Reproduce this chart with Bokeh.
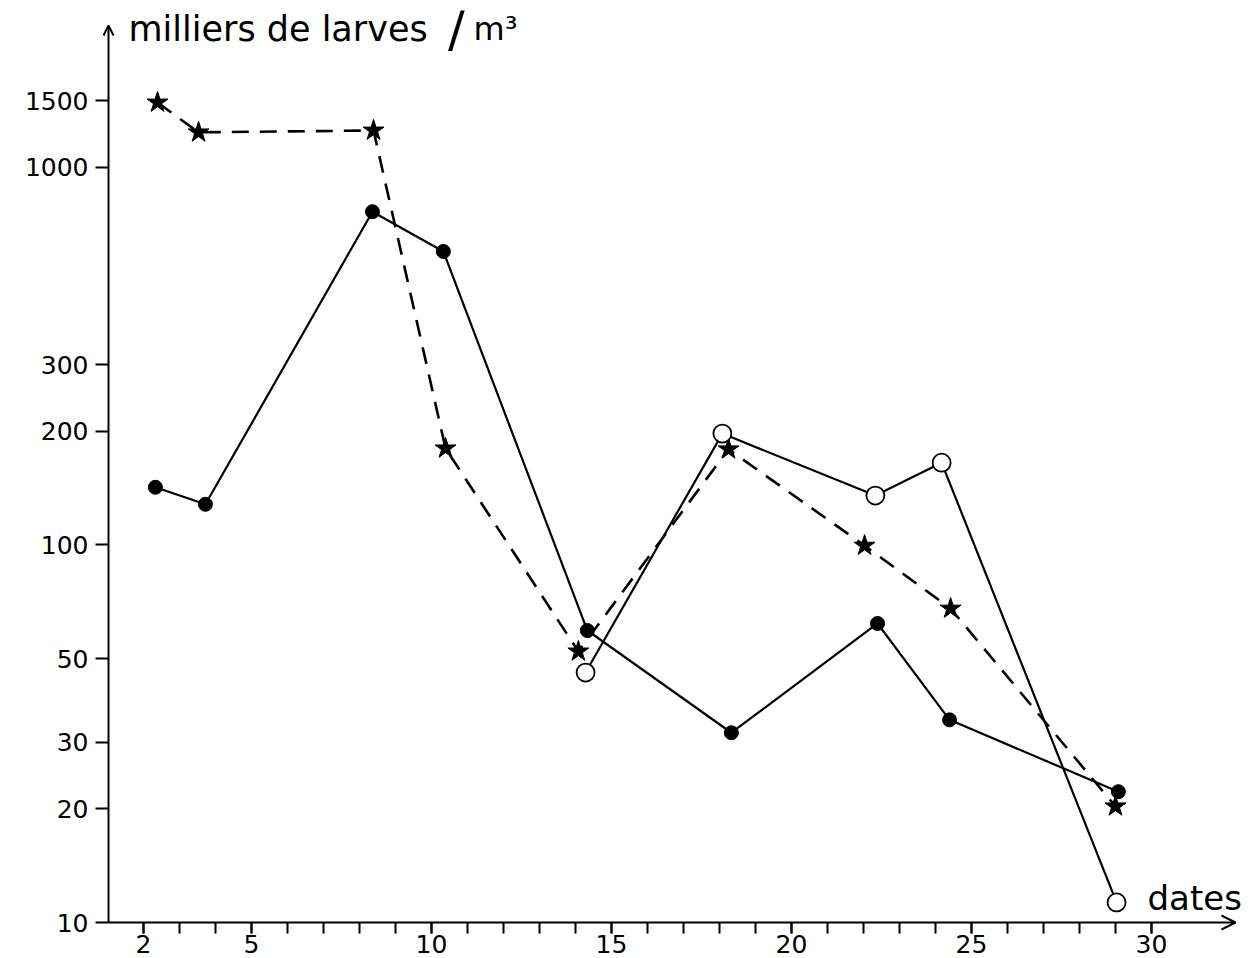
from bokeh.plotting import figure
from bokeh.models import (Range1d, FixedTicker, PrintfTickFormatter, Label,
                          Arrow, OpenHead)
from bokeh.embed import file_html
from bokeh.resources import INLINE

# ---- data ----
x_ticks = [2, 5, 10, 15, 20, 25, 30]
x_minor_ticks = list(range(2, 31))
y_ticks = [10, 20, 30, 50, 100, 200, 300, 1000, 1500]

dates_filled = [2.33, 3.72, 8.36, 10.33, 14.33, 18.33, 22.39, 24.39, 29.08]
vals_filled = [142, 128, 762, 598, 59.3, 31.8, 61.9, 34.4, 22.2]

dates_open = [14.28, 18.08, 22.33, 24.17, 29.03]
vals_open = [45.9, 197, 135, 165, 11.3]

dates_star = [2.39, 3.53, 8.39, 10.39, 14.08, 18.25, 22.03, 24.42, 29.0]
vals_star = [1483, 1236, 1250, 180, 52.2, 179, 99.5, 67.8, 20.3]

FONT = "DejaVu Sans"
# frame is a little wider than the drawn axes so that the arrow heads fit
X0, X1 = 0.75, 32.667
Y0, Y1 = 9.524, 2598
AX_X = 1.028      # vertical axis position (date)
AX_Y = 10         # horizontal axis position (value)
TIP_X = 32.333    # end of the date axis arrow
TIP_Y = 2371      # end of the value axis arrow

p = figure(width=1252, height=958, y_axis_type="log",
           x_range=Range1d(X0, X1), y_range=Range1d(Y0, Y1),
           output_backend="svg", toolbar_location=None,
           min_border_left=98, min_border_right=5,
           min_border_top=10, min_border_bottom=28)
p.grid.visible = False
p.outline_line_color = None
p.background_fill_color = "white"

# x axis: ticks reach up from the frame edge to the drawn axis line
xa = p.xaxis[0]
xa.ticker = FixedTicker(ticks=x_ticks, minor_ticks=x_minor_ticks)
xa.axis_line_color = None
xa.major_tick_in = 8
xa.major_tick_out = 3
xa.minor_tick_in = 8
xa.minor_tick_out = 3
xa.major_tick_line_width = 2
xa.minor_tick_line_width = 2
xa.major_tick_line_color = "black"
xa.minor_tick_line_color = "black"
xa.major_label_text_font = FONT
xa.major_label_text_font_size = "25px"
xa.major_label_text_color = "black"
xa.major_label_standoff = 1

# y axis
ya = p.yaxis[0]
ya.ticker = FixedTicker(ticks=y_ticks, minor_ticks=[])
ya.formatter = PrintfTickFormatter(format="%d")
ya.axis_line_color = None
ya.major_tick_in = 10
ya.major_tick_out = 3
ya.major_tick_line_width = 2
ya.major_tick_line_color = "black"
ya.minor_tick_line_color = None
ya.major_label_text_font = FONT
ya.major_label_text_font_size = "25px"
ya.major_label_text_color = "black"
ya.major_label_standoff = 7

# axis lines with arrow heads
p.add_layout(Arrow(end=OpenHead(size=10, line_width=2, line_color="black"),
                   x_start=AX_X, y_start=AX_Y, x_end=AX_X, y_end=TIP_Y,
                   line_width=2, line_color="black"))
p.add_layout(Arrow(end=OpenHead(size=14, line_width=2, line_color="black"),
                   x_start=AX_X, y_start=AX_Y, x_end=TIP_X, y_end=AX_Y,
                   line_width=2, line_color="black"))

# series
p.line(dates_star, vals_star, line_dash="17 11", line_width=2.6, line_color="black")
p.line(dates_filled, vals_filled, line_width=2.2, line_color="black")
p.line(dates_open, vals_open, line_width=2.2, line_color="black")

p.scatter(dates_star, vals_star, marker="star", size=22,
          fill_color="black", line_color="black")
p.scatter(dates_filled, vals_filled, marker="circle", size=14,
          fill_color="black", line_color="black")
p.scatter(dates_open, vals_open, marker="circle", size=18,
          fill_color="white", line_color="black", line_width=1.8)

# texts
p.add_layout(Label(x=1.583, y=2314, text="milliers de larves",
                   text_font=FONT, text_font_size="35px", text_color="black",
                   text_baseline="alphabetic"))
p.add_layout(Label(x=10.694, y=2314, text="/",
                   text_font=FONT, text_font_size="50px", text_color="black",
                   text_align="center", text_baseline="middle"))
p.add_layout(Label(x=11.17, y=2314, text="m³",
                   text_font=FONT, text_font_size="32px", text_color="black",
                   text_baseline="alphabetic"))
p.add_layout(Label(x=29.89, y=11.58, text="dates",
                   text_font=FONT, text_font_size="34px", text_color="black",
                   text_baseline="alphabetic"))

open("out.html", "w").write(file_html(p, INLINE))
